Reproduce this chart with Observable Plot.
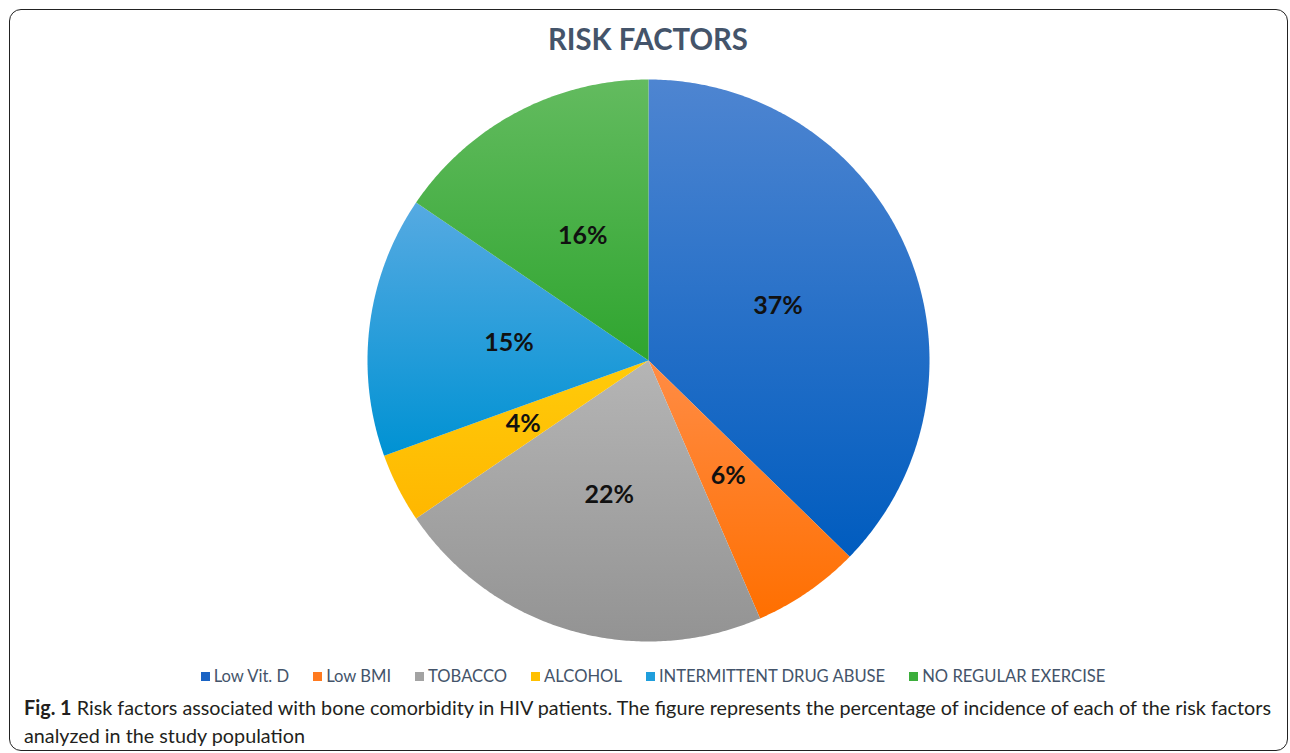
<!DOCTYPE html>
<html><head><meta charset="utf-8">
<script src="https://cdn.jsdelivr.net/npm/d3@7"></script>
<script src="https://cdn.jsdelivr.net/npm/@observablehq/plot@0.6"></script>
<style>
body{margin:0;background:#fff;font-family:Lato,"Open Sans",sans-serif;width:1290px;height:753px;overflow:hidden;position:relative;}
#frame{position:absolute;left:9px;top:9px;width:1279px;height:742px;border:1.5px solid #222;border-radius:12px;box-sizing:border-box;}
#title{position:absolute;left:0;width:1296px;top:19px;text-align:center;line-height:38px;}
#title span{display:inline-block;font-weight:bold;font-size:31px;color:#44546a;white-space:nowrap;}
#chart{position:absolute;left:0;top:60px;}
#legend{position:absolute;top:665px;left:0;width:1306px;display:flex;justify-content:center;gap:24px;font-size:16.6px;color:#44546a;line-height:22px;}
#legend .item{display:flex;align-items:center;gap:4px;white-space:nowrap;}
#legend .sw{width:9px;height:9px;display:inline-block;}
.cap{position:absolute;left:24px;font-size:20px;color:#231f20;white-space:nowrap;transform-origin:left center;line-height:24px;}
</style></head>
<body>
<div id="frame"></div>
<div id="title"><span>RISK FACTORS</span></div>
<div id="chart"></div>
<div id="legend"></div>
<div class="cap" id="cap1" style="top:695px"><b>Fig. 1</b> Risk factors associated with bone comorbidity in HIV patients. The figure represents the percentage of incidence of each of the risk factors</div>
<div class="cap" id="cap2" style="top:723px">analyzed in the study population</div>
<script>
const categories = ["Low Vit. D", "Low BMI", "TOBACCO", "ALCOHOL", "INTERMITTENT DRUG ABUSE", "NO REGULAR EXERCISE"];
const values = [37.3, 6.2, 22.0, 4.0, 15.0, 15.5];
const labels = ["37%", "6%", "22%", "4%", "15%", "16%"];
const topColors = ["#4e85d1", "#ff8c45", "#b5b5b5", "#ffcb0a", "#56aae2", "#63bb5f"];
const bottomColors = ["#005cbf", "#ff6f00", "#939393", "#ffb700", "#0092d3", "#2fa52f"];
const legendColors = ["#1a63c4", "#ff7a1f", "#a3a3a3", "#ffc000", "#1f9edc", "#3cae3c"];

(function () {
  const data = categories.map((c, i) => ({category: c, value: values[i], label: labels[i]}));
  const arcs = d3.pie().sort(null).value(d => d.value)(data);
  const step = Math.PI / 360;
  const slices = arcs.map(a => {
    const pts = [{x: 0, y: 0}];
    const n = Math.max(2, Math.ceil((a.endAngle - a.startAngle) / step));
    for (let k = 0; k <= n; k++) {
      const t = a.startAngle + (a.endAngle - a.startAngle) * k / n;
      pts.push({x: Math.sin(t), y: Math.cos(t)});
    }
    return pts;
  });
  const labelData = arcs.map(a => {
    const m = (a.startAngle + a.endAngle) / 2;
    return {x: 0.5 * Math.sin(m), y: 0.5 * Math.cos(m), label: a.data.label};
  });

  const R = 281, W = 1290, H = 600, cx = 648, padTop = 19;
  const chart = Plot.plot({
    width: W, height: H,
    marginLeft: cx - R, marginRight: W - cx - R,
    marginTop: padTop, marginBottom: H - padTop - 2 * R,
    x: {domain: [-1, 1], axis: null},
    y: {domain: [-1, 1], axis: null},
    style: {background: "transparent", overflow: "visible"},
    marks: [
      ...slices.map((pts, i) => Plot.line(pts, {x: "x", y: "y", curve: "linear-closed", fill: `url(#grad${i})`, stroke: "none"})),
      Plot.text(labelData, {x: "x", y: "y", text: "label", fontSize: 25, fontWeight: "bold", fill: "#111", fontFamily: "Lato, 'Open Sans', sans-serif"})
    ]
  });
  const ns = "http://www.w3.org/2000/svg";
  const defs = document.createElementNS(ns, "defs");
  topColors.forEach((c, i) => {
    const g = document.createElementNS(ns, "linearGradient");
    g.setAttribute("id", `grad${i}`);
    g.setAttribute("x1", 0); g.setAttribute("y1", 0); g.setAttribute("x2", 0); g.setAttribute("y2", 1);
    [[0, c], [1, bottomColors[i]]].forEach(([o, col]) => {
      const s = document.createElementNS(ns, "stop");
      s.setAttribute("offset", o); s.setAttribute("stop-color", col);
      g.appendChild(s);
    });
    defs.appendChild(g);
  });
  chart.insertBefore(defs, chart.firstChild);
  document.getElementById("chart").appendChild(chart);

  const legend = document.getElementById("legend");
  categories.forEach((c, i) => {
    const it = document.createElement("div");
    it.className = "item";
    it.innerHTML = `<span class="sw" style="background:${legendColors[i]}"></span><span>${c}</span>`;
    legend.appendChild(it);
  });

  const t = document.querySelector("#title span");
  const tw = t.getBoundingClientRect().width;
  t.style.transform = `scaleX(${200 / tw})`;
  const c1 = document.getElementById("cap1"), c2 = document.getElementById("cap2");
  const s = 1247 / c1.getBoundingClientRect().width;
  c1.style.transform = `scaleX(${s})`;
  c2.style.transform = `scaleX(${s})`;
})();
</script>
</body></html>
